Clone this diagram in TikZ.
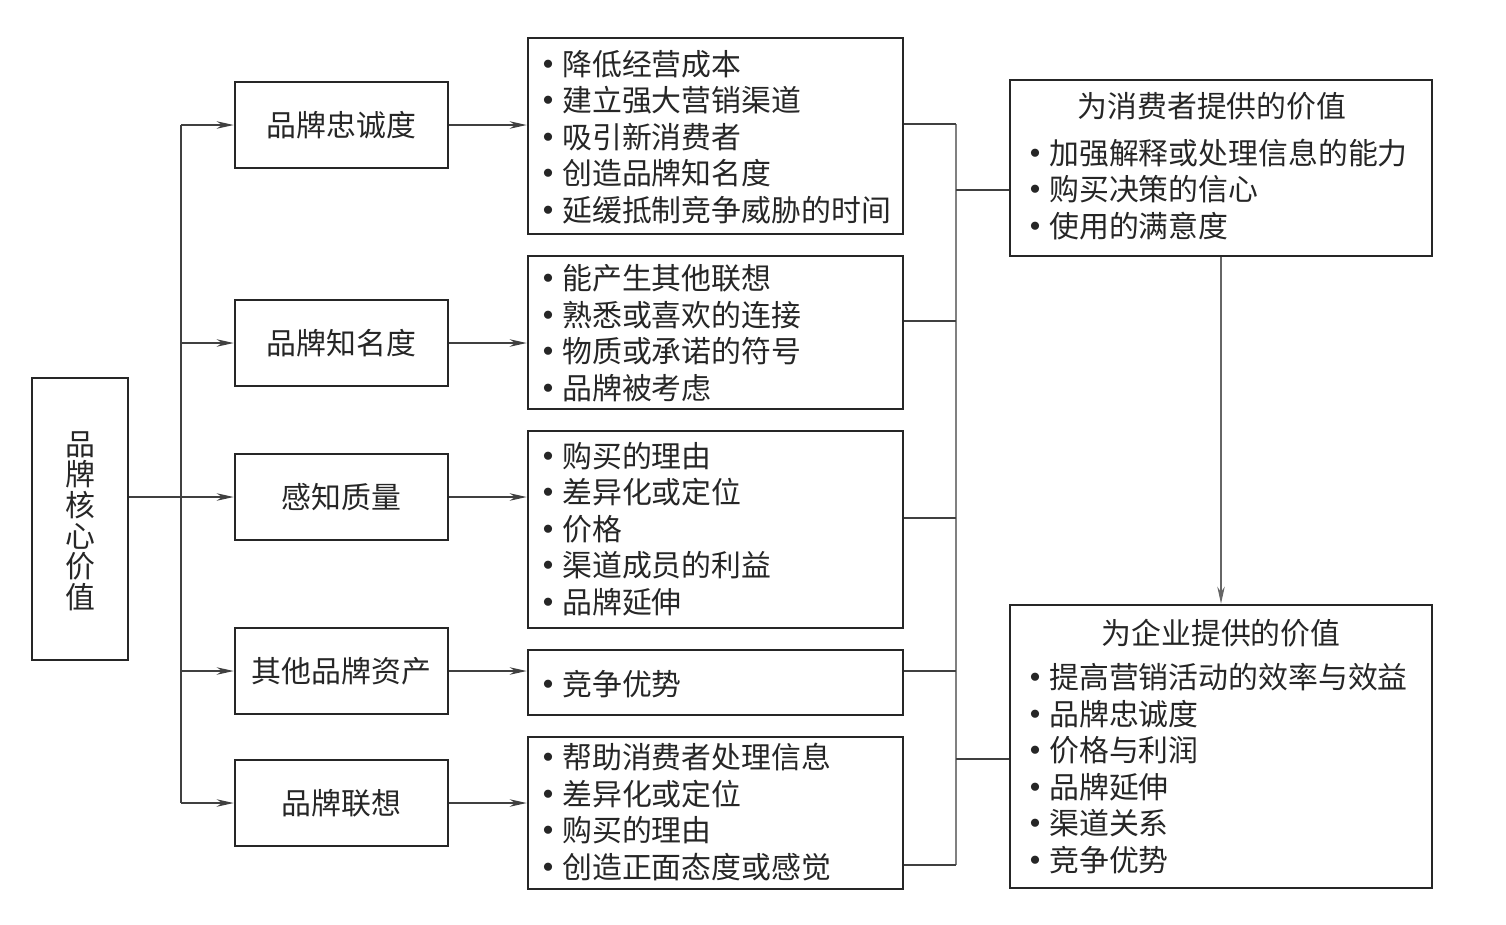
\documentclass[tikz,border=0pt]{standalone}
\usepackage{fontspec}
\setmainfont{Noto Sans CJK SC}
\usetikzlibrary{arrows.meta}
\newcommand\bu{\makebox[0.42cm][l]{\hspace{0.03cm}\raisebox{3.4pt}{\fontsize{13pt}{13pt}\selectfont$\bullet$}}}
\begin{document}
\begin{tikzpicture}[x=0.02cm,y=-0.02cm,
  box/.style={draw=black!85,line width=1.6pt,inner sep=0pt},
  txt/.style={font=\fontsize{17pt}{20.8pt}\selectfont,align=left,inner sep=0pt,text=black!85},
  lbox/.style={box,minimum width=4.26cm,minimum height=1.72cm,font=\fontsize{17pt}{20.8pt}\selectfont,text=black!85},
  mbox/.style={box,minimum width=7.5cm},
  rbox/.style={box,minimum width=8.44cm},
  conn/.style={draw=black!75,line width=0.7pt},
  bus/.style={draw=black!50,line width=0.7pt},
  arr/.style={conn,-{Stealth[length=0.34cm,width=0.15cm]}}]
\useasboundingbox (0,0) rectangle (1506,924);

% core
\node[box,minimum width=1.92cm,minimum height=5.64cm] (core) at (80,519) {};
\node[txt,align=center,font=\fontsize{17pt}{17.4pt}\selectfont] (coret) at (80,521) {品\\牌\\核\\心\\价\\值};

% left column
\node[lbox] (l1) at (341.5,125) {品牌忠诚度};
\node[lbox] (l2) at (341.5,343) {品牌知名度};
\node[lbox] (l3) at (341.5,497) {感知质量};
\node[lbox] (l4) at (341.5,671) {其他品牌资产};
\node[lbox] (l5) at (341.5,803) {品牌联想};

% middle column
\node[mbox,minimum height=3.92cm] (m1) at (715.5,136) {};
\node[txt,anchor=west] (m1t) at (541,137) {\bu 降低经营成本\\\bu 建立强大营销渠道\\\bu 吸引新消费者\\\bu 创造品牌知名度\\\bu 延缓抵制竞争威胁的时间};
\node[mbox,minimum height=3.06cm] (m2) at (715.5,332.5) {};
\node[txt,anchor=west] (m2t) at (541,333) {\bu 能产生其他联想\\\bu 熟悉或喜欢的连接\\\bu 物质或承诺的符号\\\bu 品牌被考虑};
\node[mbox,minimum height=3.94cm] (m3) at (715.5,529.5) {};
\node[txt,anchor=west] (m3t) at (541,529) {\bu 购买的理由\\\bu 差异化或定位\\\bu 价格\\\bu 渠道成员的利益\\\bu 品牌延伸};
\node[mbox,minimum height=1.3cm] (m4) at (715.5,682.5) {};
\node[txt,anchor=west] (m4t) at (541,684) {\bu 竞争优势};
\node[mbox,minimum height=3.04cm] (m5) at (715.5,813) {};
\node[txt,anchor=west] (m5t) at (541,812) {\bu 帮助消费者处理信息\\\bu 差异化或定位\\\bu 购买的理由\\\bu 创造正面态度或感觉};

% right column
\node[rbox,minimum height=3.52cm] (r1) at (1221,168) {};
\node[txt] (r1h) at (1212,106) {为消费者提供的价值};
\node[txt,anchor=west] (r1t) at (1028,189.5) {\bu 加强解释或处理信息的能力\\\bu 购买决策的信心\\\bu 使用的满意度};
\node[rbox,minimum height=5.66cm] (r2) at (1221,746.5) {};
\node[txt] (r2h) at (1221,633) {为企业提供的价值};
\node[txt,anchor=west] (r2t) at (1028,768.5) {\bu 提高营销活动的效率与效益\\\bu 品牌忠诚度\\\bu 价格与利润\\\bu 品牌延伸\\\bu 渠道关系\\\bu 竞争优势};

% left trunk
\coordinate (t1) at (181,125);
\coordinate (t5) at (181,803);
\draw[conn] (t1) -- (t5);
\foreach \i in {1,2,4,5} \draw[arr] (t1 |- l\i) -- (l\i.west);
\draw[arr] (core.east |- l3) -- (l3.west);
\foreach \i in {1,...,5} \draw[arr] (l\i.east) -- (l\i.east -| m\i.west);

% right bus
\coordinate (b1) at (956,124);
\coordinate (b2) at (956,321);
\coordinate (b3) at (956,518);
\coordinate (b4) at (956,671);
\coordinate (b5) at (956,865);
\coordinate (bR1) at (956,190);
\coordinate (bR2) at (956,759);
\draw[bus] (b1) -- (b5);
\foreach \i in {1,...,5} \draw[conn] (m\i.east |- b\i) -- (b\i);
\draw[conn] (bR1) -- (bR1 -| r1.west);
\draw[conn] (bR2) -- (bR2 -| r2.west);
\draw[arr,draw=black!60] (r1.south) -- (r2.north);
\end{tikzpicture}
\end{document}
